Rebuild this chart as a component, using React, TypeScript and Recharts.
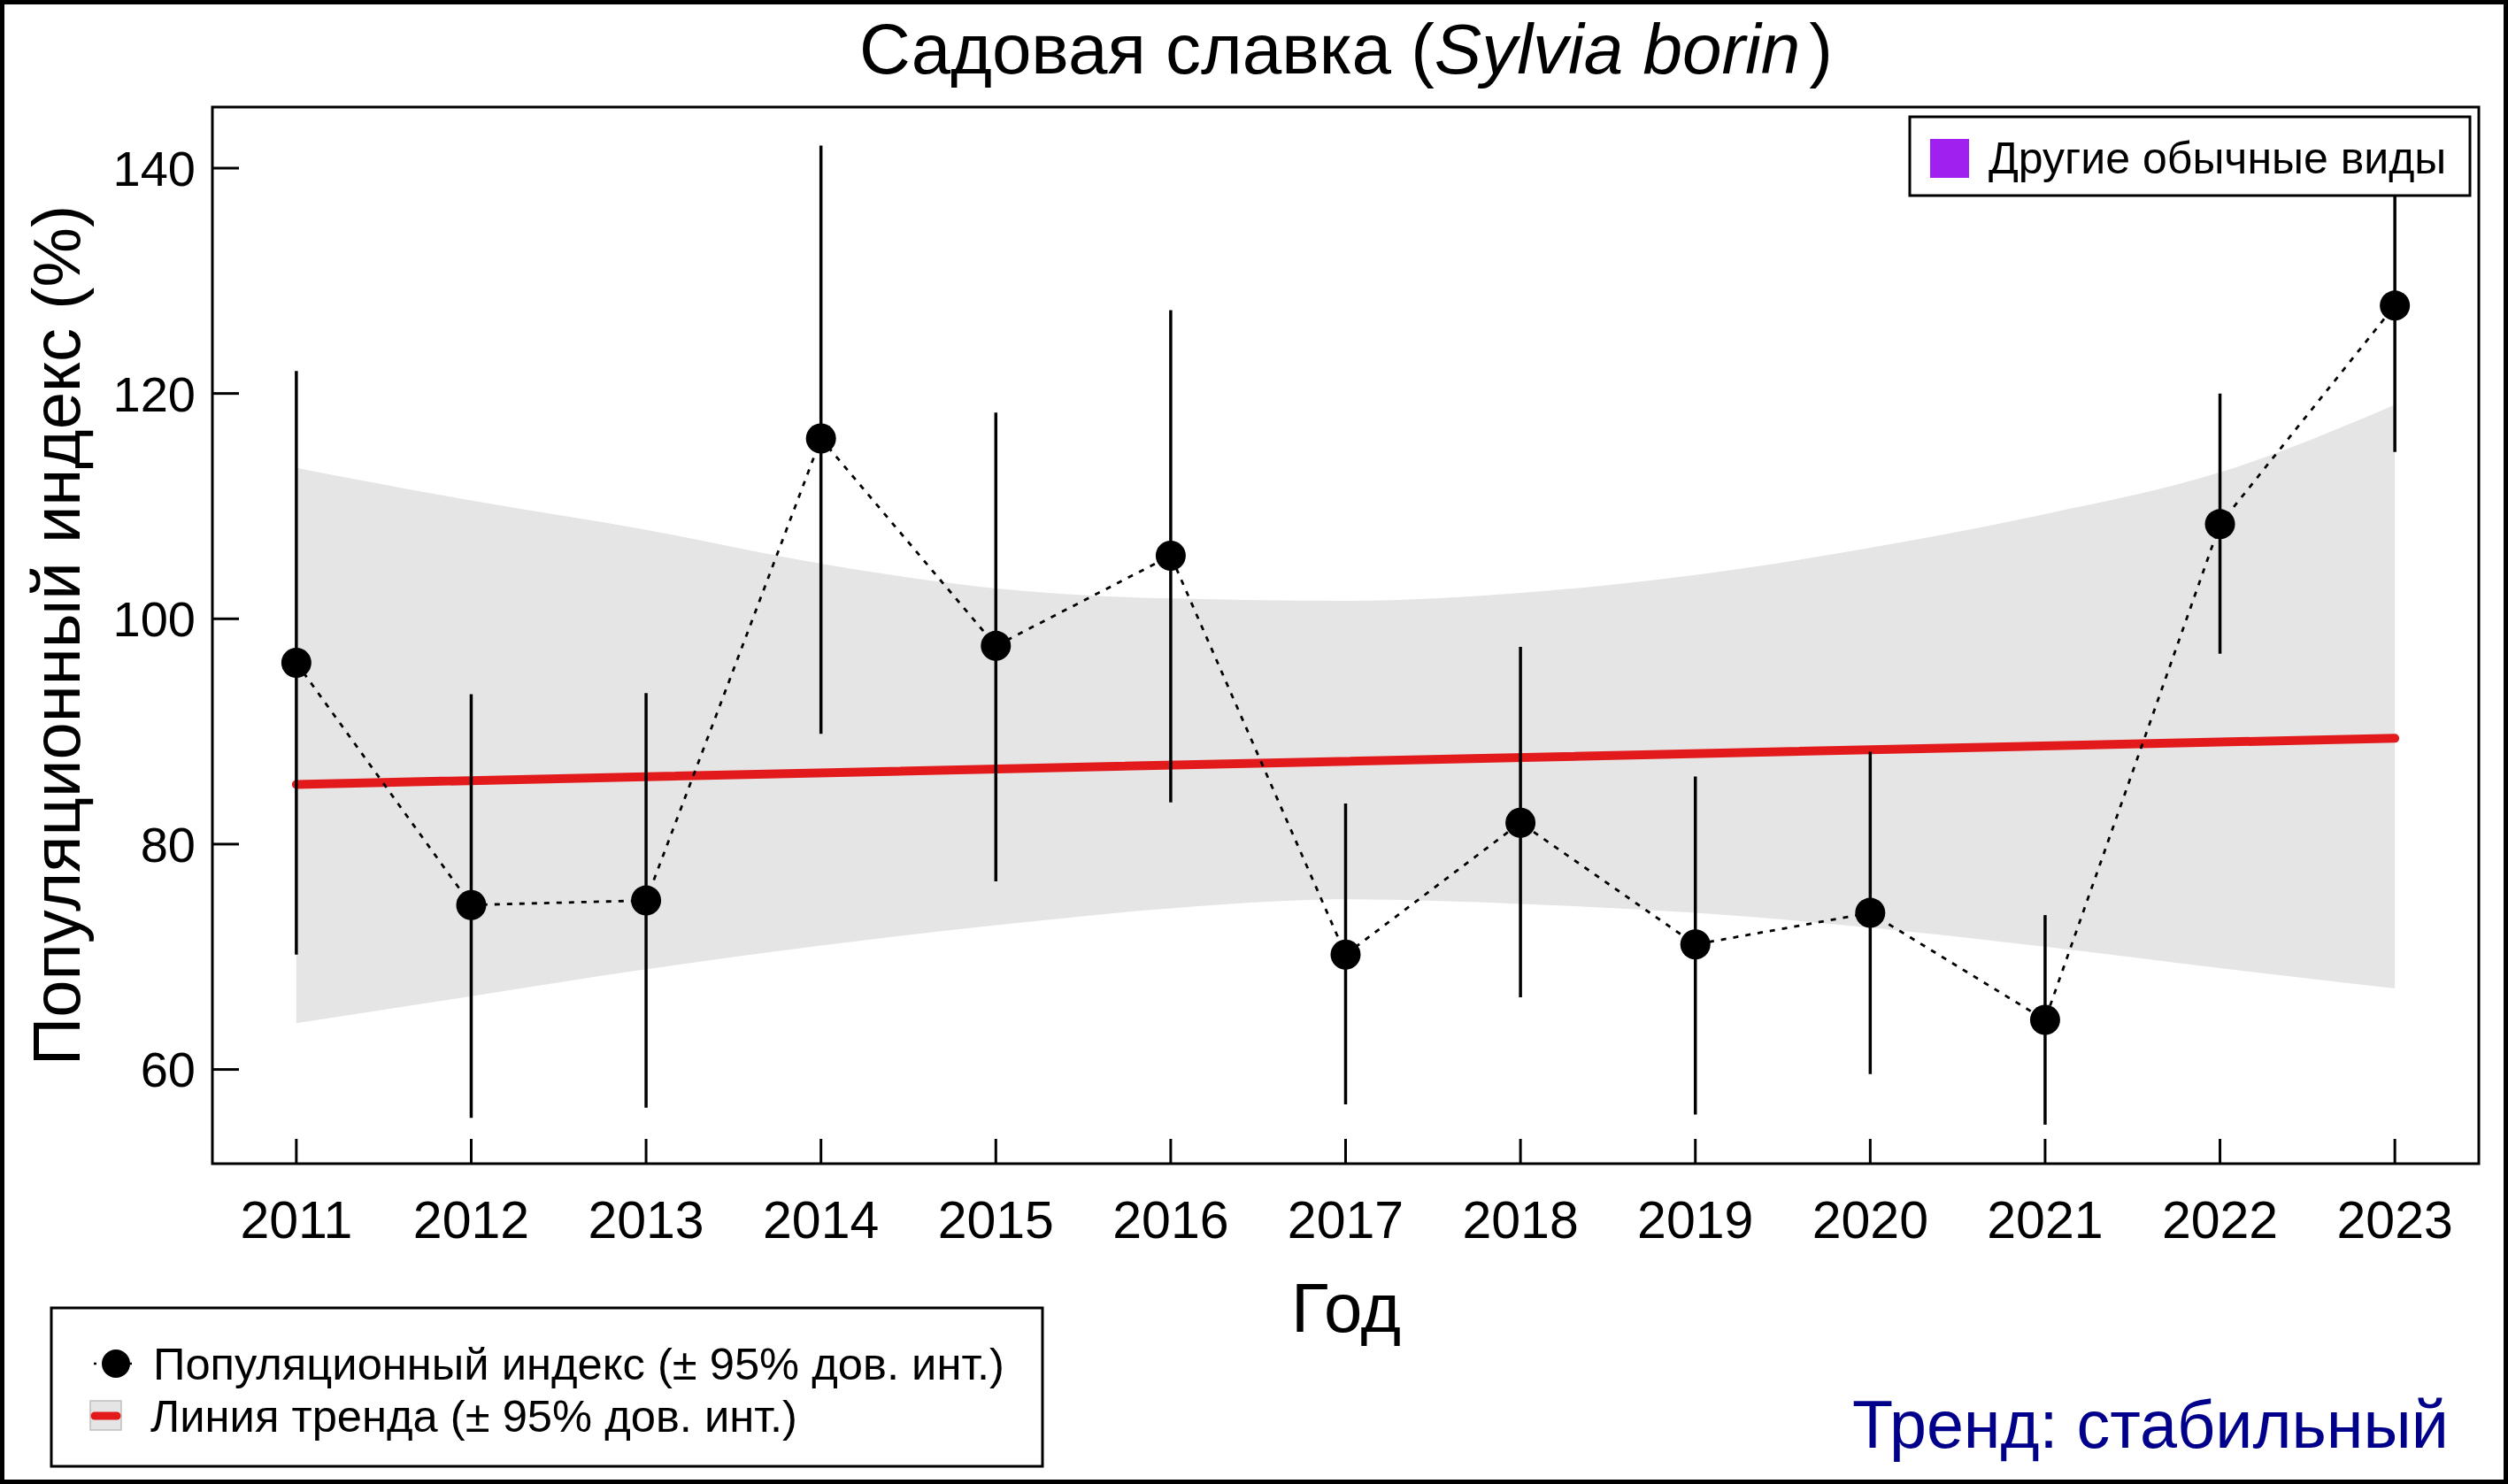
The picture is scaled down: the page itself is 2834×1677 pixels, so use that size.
import React from 'react';
import { Area, ComposedChart, ErrorBar, Line, XAxis, YAxis } from 'recharts';

const FONT = '"Liberation Sans", Arial, Helvetica, sans-serif';
const W = 2834;
const H = 1677;

const years = [2011, 2012, 2013, 2014, 2015, 2016, 2017, 2018, 2019, 2020, 2021, 2022, 2023];
const indexValues = [96.1, 74.6, 75.0, 116.0, 97.6, 105.6, 70.2, 81.9, 71.1, 73.9, 64.4, 108.4, 127.8];
const indexLower = [70.2, 55.7, 56.6, 89.8, 76.7, 83.7, 56.9, 66.4, 56.0, 59.6, 55.1, 96.9, 114.8];
const indexUpper = [122.0, 93.3, 93.4, 142.0, 118.3, 127.4, 83.6, 97.5, 86.0, 88.2, 73.7, 120.0, 139.0];
const bandLower = [64.1, 66.5, 68.9, 71.0, 72.8, 74.3, 75.1, 74.7, 73.9, 72.6, 70.9, 69.0, 67.2];
const bandUpper = [113.4, 110.5, 107.9, 104.9, 102.7, 101.8, 101.6, 102.3, 103.9, 106.3, 109.3, 113.0, 119.0];
// straight trend line, only its two ends are needed
const trendValues = [85.3, null, null, null, null, null, null, null, null, null, null, null, 89.4];
const yTicks = [60, 80, 100, 120, 140];

const chartData = years.map((year, i) => ({
    year,
    index: indexValues[i],
    err: [indexValues[i] - indexLower[i], indexUpper[i] - indexValues[i]],
    band: [bandLower[i], bandUpper[i]],
    trend: trendValues[i],
}));

const renderDot = (props: any) => {
    const { cx, cy, index } = props;
    if (cx == null || cy == null) return <g key={index} />;
    return <circle key={index} cx={cx} cy={cy} r={17} fill="#000" />;
};

export default function App() {
    return (
        <div style={{ position: 'absolute', left: 0, top: 0, width: W, height: H, background: '#fff' }}>
            <ComposedChart
                width={W}
                height={H}
                data={chartData}
                margin={{ top: 121, right: 33, bottom: 0, left: 0 }}
                style={{ position: 'absolute', left: 0, top: 0 }}
            >
                <XAxis
                    type="number"
                    dataKey="year"
                    domain={[2010.52, 2023.48]}
                    ticks={years}
                    interval={0}
                    allowDataOverflow
                    height={362}
                    axisLine={false}
                    stroke="#000"
                    tickSize={-28}
                    tickMargin={70}
                    tickLine={{ stroke: '#000', strokeWidth: 3 }}
                    tick={{ fill: '#000', fontSize: 59, fontFamily: FONT }}
                />
                <YAxis
                    type="number"
                    domain={[51.64, 145.42]}
                    ticks={yTicks}
                    interval={0}
                    allowDataOverflow
                    width={240}
                    axisLine={false}
                    stroke="#000"
                    tickSize={-30}
                    tickMargin={49}
                    tickLine={{ stroke: '#000', strokeWidth: 3 }}
                    tick={{ fill: '#000', fontSize: 56, fontFamily: FONT }}
                />
                <Area
                    type="monotone"
                    dataKey="band"
                    stroke="none"
                    fill="#E5E5E5"
                    fillOpacity={1}
                    isAnimationActive={false}
                />
                <Line
                    dataKey="trend"
                    connectNulls
                    stroke="#E31A1C"
                    strokeWidth={10}
                    strokeLinecap="round"
                    dot={false}
                    activeDot={false}
                    isAnimationActive={false}
                />
                <Line
                    type="linear"
                    dataKey="index"
                    stroke="#000"
                    strokeWidth={2.8}
                    strokeDasharray="6 8"
                    dot={renderDot}
                    activeDot={false}
                    isAnimationActive={false}
                >
                    <ErrorBar dataKey="err" width={0} stroke="#000" strokeWidth={3.5} direction="y" />
                </Line>
            </ComposedChart>

            <svg
                width={W}
                height={H}
                style={{ position: 'absolute', left: 0, top: 0, pointerEvents: 'none' }}
                fontFamily={FONT}
            >
                <rect x={2.5} y={2.5} width={W - 5} height={H - 5} fill="none" stroke="#000" strokeWidth={5} />
                <rect x={240} y={121} width={2561} height={1194} fill="none" stroke="#000" strokeWidth={3} />

                <text x={1521} y={83} textAnchor="middle" fontSize={80} fill="#000">
                    Садовая славка (<tspan fontStyle="italic">Sylvia borin</tspan>
                    <tspan dx={10}>)</tspan>
                </text>

                <text x={90} y={718} transform="rotate(-90 90 718)" textAnchor="middle" fontSize={76} fill="#000">
                    Популяционный индекс (%)
                </text>
                <text x={1521} y={1505} textAnchor="middle" fontSize={78} fill="#000">
                    Год
                </text>
                <text x={2767} y={1636} textAnchor="end" fontSize={75.5} fill="#00008B">
                    Тренд: стабильный
                </text>

                {/* legend inside plot, top right */}
                <rect x={2158} y={132} width={633} height={89} fill="#fff" stroke="#000" strokeWidth={3} />
                <rect x={2181} y={157} width={44} height={44} fill="#A020F0" />
                <text x={2247} y={179} dominantBaseline="central" fontSize={50} fill="#000">
                    Другие обычные виды
                </text>

                {/* legend bottom left */}
                <rect x={58} y={1478} width={1120} height={179} fill="#fff" stroke="#000" strokeWidth={3} />
                <line x1={106} y1={1541} x2={156} y2={1541} stroke="#000" strokeWidth={2.5} strokeDasharray="3 7" />
                <circle cx={131} cy={1541} r={16} fill="#000" />
                <text x={173} y={1541} dominantBaseline="central" fontSize={50.7} fill="#000">
                    Популяционный индекс (± 95% дов. инт.)
                </text>
                <rect x={102} y={1583} width={35} height={33} fill="#E5E5E5" stroke="#BEBEBE" strokeWidth={1.5} />
                <line x1={107} y1={1600} x2={132} y2={1600} stroke="#E31A1C" strokeWidth={9} strokeLinecap="round" />
                <text x={170} y={1600} dominantBaseline="central" fontSize={50.7} fill="#000">
                    Линия тренда (± 95% дов. инт.)
                </text>
            </svg>
        </div>
    );
}
